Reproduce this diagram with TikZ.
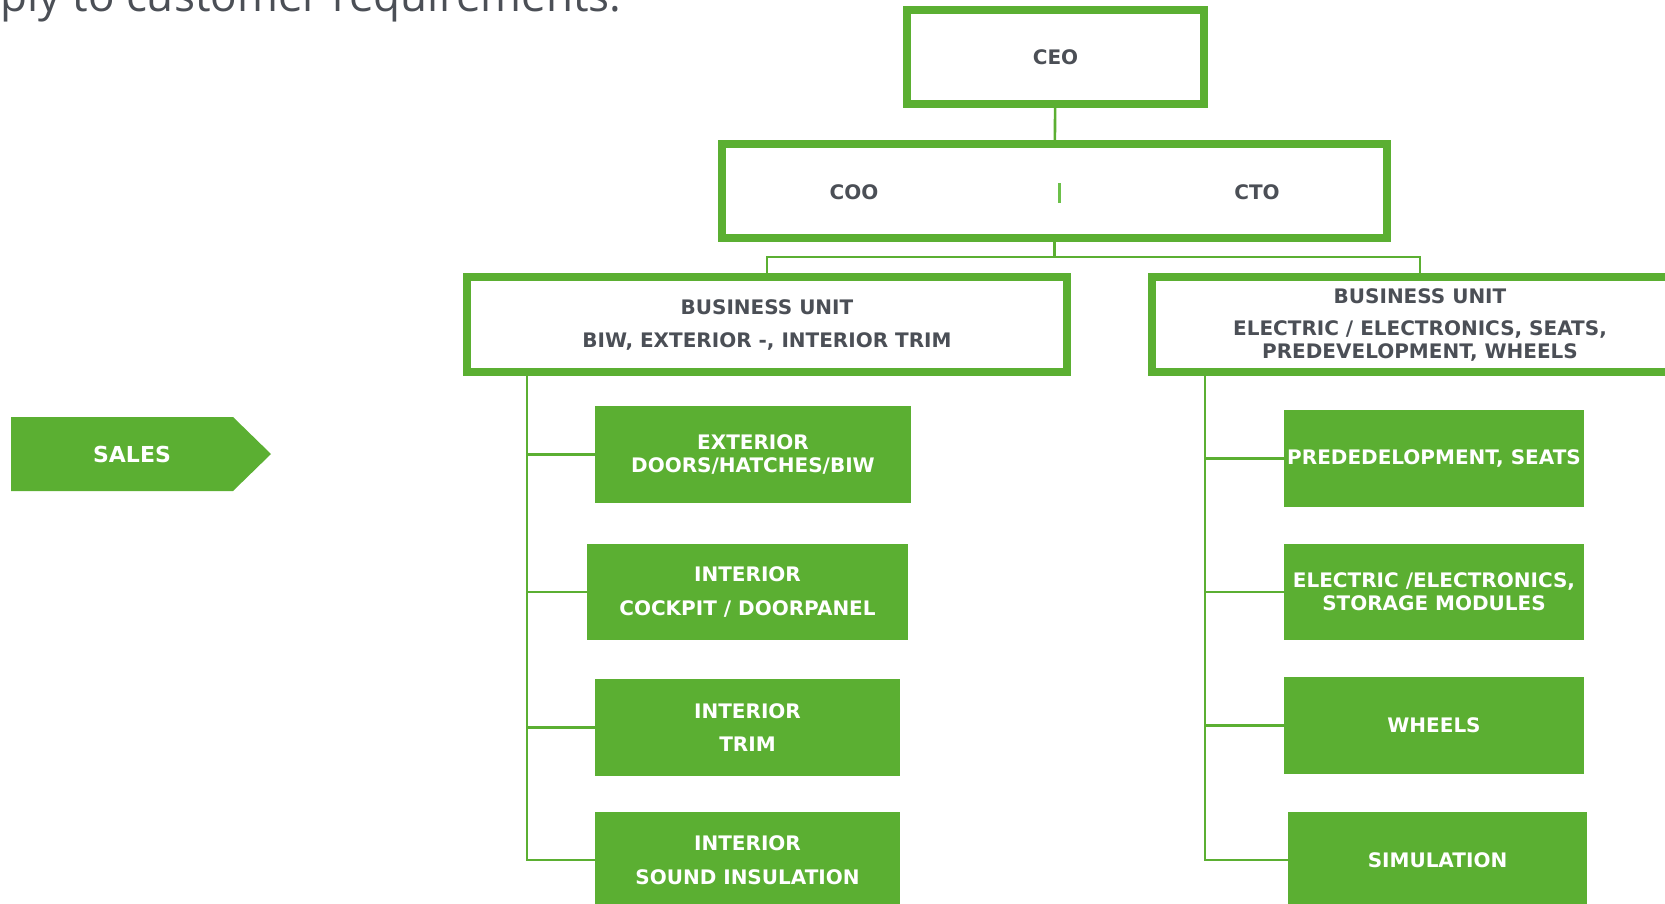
\documentclass[tikz,border=0pt]{standalone}
\usepackage{fontspec}
\setmainfont{DejaVu Sans}
\newfontfamily\introfont{Open Sans}
\usepackage{xcolor}
\usetikzlibrary{calc}
\definecolor{highlightcolorg}{HTML}{5BAF32}
\definecolor{textg}{HTML}{4B4F56}
\definecolor{tickg}{HTML}{6CC04A}
\colorlet{highlightcolor}{highlightcolorg}
\colorlet{textcolor}{textg}
\tikzstyle{framebox} =[
    draw=highlightcolor,
    line width=4pt,
    rectangle,
    inner sep=0pt,
    text=textcolor,
    align=center,
    font=\bfseries\fontsize{10}{11.5}\selectfont
    ]
\tikzstyle{boxtext} =[
    text=textcolor,
    font=\bfseries\fontsize{10}{11.5}\selectfont
    ]
\tikzstyle{unitbox} =[
    fill=highlightcolor,
    text=white,
    rectangle,
    inner sep=0pt,
    outer sep=0pt,
    align=center,
    font=\bfseries\fontsize{10}{11.5}\selectfont
    ]
\tikzstyle{link} =[
    draw=highlightcolor,
    line width=1.3pt
    ]

\begin{document}
\begin{tikzpicture}[x=0.5pt,y=-0.5pt]
\useasboundingbox (0,0) rectangle (1665,904);
\node[text=textcolor, font=\introfont\fontsize{22}{26}\selectfont, anchor=base east, inner sep=0pt] (intro) at (622,12) {ply to customer requirements.};

% management
\node[framebox, minimum width=148.5pt, minimum height=47pt] (ceo) at (1055.5,57) {CEO};
\node[framebox, minimum width=332.5pt, minimum height=47pt] (board) at (1054.5,191) {};
\node[boxtext] (coo) at (854,192) {COO};
\node[boxtext] (cto) at (1257,192) {CTO};
\draw[tickg, line width=1.5pt] (1059,183) -- (1059,203);

% business units
\node[framebox, minimum width=300pt, minimum height=47.5pt] (bu1) at (767,324.5) {BUSINESS UNIT\\[5pt] BIW, EXTERIOR -, INTERIOR TRIM};
\node[framebox, minimum width=268pt, minimum height=47.5pt] (bu2) at (1420,324.5) {BUSINESS UNIT\\[4.5pt] ELECTRIC / ELECTRONICS, SEATS,\\ PREDEVELOPMENT, WHEELS};

\coordinate (split) at ($(board.south)+(0,15)$);
\draw[link] (ceo) -- (board);
\draw[link] (board.south) -- (split) -| (bu1.north);
\draw[link] (split) -| (bu2.north);

% sales
\fill[highlightcolor] (11,417) -- (233,417) -- (271,454) -- (233,491) -- (11,491) -- cycle;
\node[text=white, font=\bfseries\fontsize{11}{13}\selectfont] (sales) at (132,454) {SALES};

% units of bu1
\node[unitbox, minimum width=158pt, minimum height=48.5pt] (sub11) at (753,454.5) {EXTERIOR\\ DOORS/HATCHES/BIW};
\node[unitbox, minimum width=160.5pt, minimum height=48pt] (sub12) at (747.5,592) {INTERIOR\\[5.5pt] COCKPIT / DOORPANEL};
\node[unitbox, minimum width=152.5pt, minimum height=48.5pt] (sub13) at (747.5,727.5) {INTERIOR\\[5pt] TRIM};
\node[unitbox, minimum width=152.5pt, minimum height=48pt] (sub14) at (747.5,860) {INTERIOR\\[5.5pt] SOUND INSULATION};

% units of bu2
\node[unitbox, minimum width=150pt, minimum height=48.5pt] (sub21) at (1434,458.5) {PREDEDELOPMENT, SEATS};
\node[unitbox, minimum width=150pt, minimum height=48pt] (sub22) at (1434,592) {ELECTRIC /ELECTRONICS,\\ STORAGE MODULES};
\node[unitbox, minimum width=150pt, minimum height=48.5pt] (sub23) at (1434,725.5) {WHEELS};
\node[unitbox, minimum width=149.5pt, minimum height=48pt] (sub24) at (1437.5,860) {SIMULATION};

\coordinate (spine1) at (527,0);
\coordinate (spine2) at (1205,0);
\draw[link] (bu1.south -| spine1) |- (sub14.west);
\draw[link] (bu2.south -| spine2) |- (sub24.west);
\foreach \n in {sub11,sub12,sub13}
  \draw[link] (spine1 |- \n.west) -- (\n.west);
\foreach \n in {sub21,sub22,sub23}
  \draw[link] (spine2 |- \n.west) -- (\n.west);
\end{tikzpicture}
\end{document}
